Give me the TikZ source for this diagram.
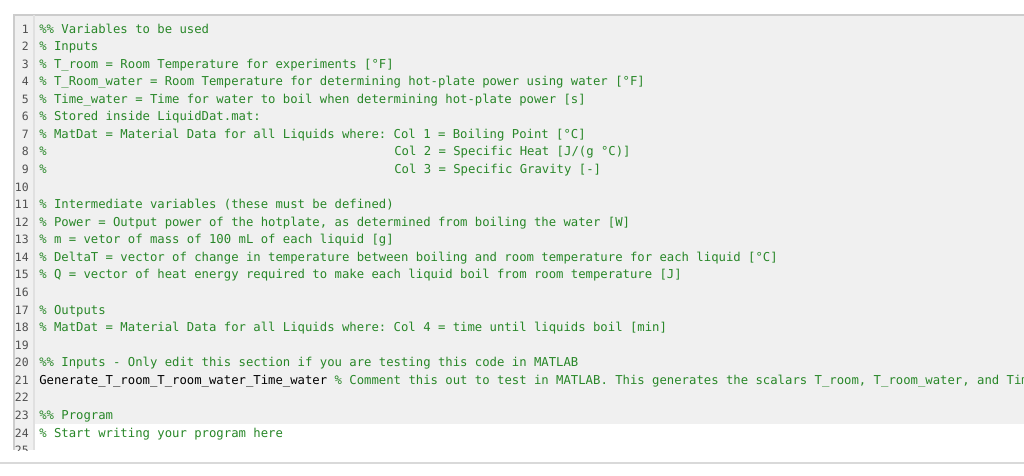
\documentclass[tikz,border=0pt]{standalone}
\usepackage{fontspec}
\setmonofont{DejaVu Sans Mono}
\definecolor{cmt}{RGB}{40,135,40}
\definecolor{bg}{RGB}{240,240,240}
\definecolor{num}{RGB}{80,80,80}
\begin{document}
\begin{tikzpicture}[x=0.75pt,y=-0.75pt,
  code/.style={anchor=base west,inner sep=0pt,font=\ttfamily\fontsize{9.2}{10}\selectfont,text=cmt},
  lnum/.style={anchor=base east,inner sep=0pt,font=\ttfamily\fontsize{8.6}{10}\selectfont,text=num}]
\useasboundingbox (0,0) rectangle (1024,475);
\fill[white] (0,0) rectangle (1024,475);
\fill[bg] (14,15) rectangle (1024,424);
\fill[bg] (14,424) rectangle (34,450);
\draw[black!20,line width=0.9pt] (1024,15) -- (14,15) -- (14,450);
\draw[black!12,line width=0.9pt] (34,15) -- (34,450);
\draw[black!15,line width=1pt] (0,463) -- (1024,463);
\begin{scope}
\clip (0,15) rectangle (1024,450);
\foreach \i in {1,...,25} {
  \node[lnum] (n\i) at (29,{29+(\i-1)*17.57+4}) {\i};
}
\end{scope}
\def\Y#1{{29+(#1-1)*17.57+4}}
\node[code] (l1) at (39,\Y{1}) {\%\% Variables to be used};
\node[code] (l2) at (39,\Y{2}) {\% Inputs};
\node[code] (l3) at (39,\Y{3}) {\% T\_room = Room Temperature for experiments [°F]};
\node[code] (l4) at (39,\Y{4}) {\% T\_Room\_water = Room Temperature for determining hot-plate power using water [°F]};
\node[code] (l5) at (39,\Y{5}) {\% Time\_water = Time for water to boil when determining hot-plate power [s]};
\node[code] (l6) at (39,\Y{6}) {\% Stored inside LiquidDat.mat:};
\node[code] (l7) at (39,\Y{7}) {\% MatDat = Material Data for all Liquids where: Col 1 = Boiling Point [°C]};
\node[code] (l8) at (39,\Y{8}) {\%};
\node[code] (l8b) at (394,\Y{8}) {Col 2 = Specific Heat [J/(g °C)]};
\node[code] (l9) at (39,\Y{9}) {\%};
\node[code] (l9b) at (394,\Y{9}) {Col 3 = Specific Gravity [-]};
\node[code] (l11) at (39,\Y{11}) {\% Intermediate variables (these must be defined)};
\node[code] (l12) at (39,\Y{12}) {\% Power = Output power of the hotplate, as determined from boiling the water [W]};
\node[code] (l13) at (39,\Y{13}) {\% m = vetor of mass of 100 mL of each liquid [g]};
\node[code] (l14) at (39,\Y{14}) {\% DeltaT = vector of change in temperature between boiling and room temperature for each liquid [°C]};
\node[code] (l15) at (39,\Y{15}) {\% Q = vector of heat energy required to make each liquid boil from room temperature [J]};
\node[code] (l17) at (39,\Y{17}) {\% Outputs};
\node[code] (l18) at (39,\Y{18}) {\% MatDat = Material Data for all Liquids where: Col 4 = time until liquids boil [min]};
\node[code] (l20) at (39,\Y{20}) {\%\% Inputs - Only edit this section if you are testing this code in MATLAB};
\begin{scope}
\clip (0,0) rectangle (1024,475);
\node[code,text=black] (l21) at (39,\Y{21}) {Generate\_T\_room\_T\_room\_water\_Time\_water \textcolor{cmt}{\% Comment this out to test in MATLAB. This generates the scalars T\_room, T\_room\_water, and Time\_water}};
\end{scope}
\node[code] (l23) at (39,\Y{23}) {\%\% Program};
\node[code] (l24) at (39,\Y{24}) {\% Start writing your program here};
\end{tikzpicture}
\end{document}
